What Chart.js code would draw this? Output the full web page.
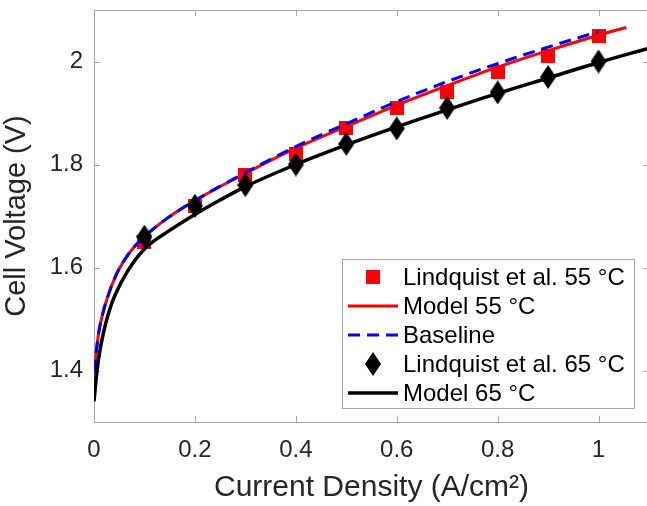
<!DOCTYPE html>
<html>
<head>
<meta charset="utf-8">
<script src="https://cdn.jsdelivr.net/npm/chart.js@4"></script>
<style>
  html, body { margin: 0; padding: 0; background: #fff; overflow: hidden; }
  #wrap { width: 647px; height: 506px; overflow: hidden; }
</style>
</head>
<body>
<div id="wrap"><canvas id="c" width="658" height="506"></canvas></div>
<script>
// measured points (Lindquist et al.)
const expX = [0.1, 0.2, 0.3, 0.4, 0.5, 0.6, 0.7, 0.8, 0.9, 1.0];
const lind55 = [1.65, 1.72, 1.78, 1.82, 1.87, 1.91, 1.94, 1.98, 2.01, 2.05];
const lind65 = [1.66, 1.72, 1.76, 1.80, 1.84, 1.87, 1.91, 1.94, 1.97, 2.00];

// model curves
const model55X = [0, 0.002, 0.0085, 0.016, 0.026, 0.045, 0.06, 0.077, 0.1, 0.14, 0.2, 0.3, 0.4, 0.5, 0.6, 0.7, 0.8, 0.9, 1.0, 1.055];
const model55Y = [1.36, 1.405, 1.468, 1.505, 1.54, 1.588, 1.614, 1.637, 1.66, 1.692, 1.73, 1.783, 1.832, 1.874, 1.915, 1.953, 1.989, 2.021, 2.051, 2.066];
const baseX = [0, 0.002, 0.0085, 0.016, 0.026, 0.045, 0.06, 0.077, 0.1, 0.14, 0.2, 0.3, 0.4, 0.5, 0.6, 0.7, 0.8, 0.9, 1.0];
const baseY = [1.36, 1.405, 1.468, 1.505, 1.54, 1.588, 1.614, 1.637, 1.66, 1.692, 1.73, 1.784, 1.835, 1.879, 1.922, 1.961, 1.996, 2.028, 2.058];
const model65X = [0, 0.0066, 0.018, 0.03, 0.042, 0.066, 0.1, 0.15, 0.2, 0.25, 0.3, 0.4, 0.5, 0.6, 0.7, 0.8, 0.9, 1.0, 1.1];
const model65Y = [1.34, 1.405, 1.47, 1.515, 1.547, 1.592, 1.636, 1.672, 1.703, 1.731, 1.757, 1.80, 1.838, 1.873, 1.906, 1.938, 1.968, 1.998, 2.026];

const xTicks = [0, 0.2, 0.4, 0.6, 0.8, 1];
const yTicks = [1.4, 1.6, 1.8, 2];

const TXT = '#262626';
const AXIS = '#a6a6a6';
const FONT = "'Liberation Sans', Arial, sans-serif";

function pts(xs, ys) { return xs.map((x, i) => ({ x: x, y: ys[i] })); }

function marker(kind) {
  const cv = document.createElement('canvas');
  const ctx = cv.getContext('2d');
  if (kind === 'square') {
    cv.width = 14; cv.height = 14;
    ctx.fillStyle = '#ff0000';
    ctx.fillRect(0, 0, 14, 14);
  } else {
    cv.width = 16; cv.height = 24;
    ctx.fillStyle = '#000';
    ctx.beginPath();
    ctx.moveTo(8, 0); ctx.lineTo(16, 12); ctx.lineTo(8, 24); ctx.lineTo(0, 12);
    ctx.closePath(); ctx.fill();
  }
  return cv;
}
const sq = marker('square');
const dia = marker('diamond');

// box + inward ticks, MATLAB style
const framePlugin = {
  id: 'frame',
  beforeDatasetsDraw(chart) {
    const { ctx, chartArea: a, scales } = chart;
    ctx.save();
    ctx.strokeStyle = AXIS;
    ctx.lineWidth = 1;
    ctx.strokeRect(a.left + 0.5, a.top + 0.5, a.right - a.left, a.bottom - a.top);
    ctx.beginPath();
    xTicks.forEach((v) => {
      const px = Math.round(scales.x.getPixelForValue(v)) + 0.5;
      ctx.moveTo(px, a.bottom); ctx.lineTo(px, a.bottom - 6);
      ctx.moveTo(px, a.top); ctx.lineTo(px, a.top + 6);
    });
    yTicks.forEach((v) => {
      const py = Math.round(scales.y.getPixelForValue(v)) + 0.5;
      ctx.moveTo(a.left, py); ctx.lineTo(a.left + 6, py);
      ctx.moveTo(a.right, py); ctx.lineTo(a.right - 6, py);
    });
    ctx.stroke();
    ctx.restore();
  }
};

const legendPlugin = {
  id: 'boxLegend',
  afterDatasetsDraw(chart) {
    const ctx = chart.ctx;
    const L = 342, T = 259, W = 292, H = 149;
    const rowY = [277, 306, 335, 364, 393];
    ctx.save();
    ctx.fillStyle = '#fff';
    ctx.fillRect(L, T, W, H);
    ctx.strokeStyle = AXIS;
    ctx.lineWidth = 1;
    ctx.strokeRect(L + 0.5, T + 0.5, W, H);
    chart.data.datasets.forEach((ds, i) => {
      const y = rowY[i];
      if (ds.showLine === false) {
        const img = ds.pointStyle;
        ctx.drawImage(img, 373 - img.width / 2, y - img.height / 2);
      } else {
        ctx.strokeStyle = ds.borderColor;
        ctx.lineWidth = ds.borderWidth;
        ctx.setLineDash(ds.borderDash || []);
        ctx.beginPath();
        ctx.moveTo(348, y); ctx.lineTo(398, y);
        ctx.stroke();
        ctx.setLineDash([]);
      }
      ctx.fillStyle = '#000';
      ctx.font = '24px ' + FONT;
      ctx.textBaseline = 'middle';
      ctx.fillText(ds.label, 403, y + 1);
    });
    ctx.restore();
  }
};

const fmt = (v) => String(+Number(v).toFixed(1));

new Chart(document.getElementById('c'), {
  type: 'line',
  data: {
    datasets: [
      { label: 'Lindquist et al. 55 °C', data: pts(expX, lind55), showLine: false,
        pointStyle: sq, pointRadius: 7, order: 3 },
      { label: 'Model 55 °C', data: pts(model55X, model55Y), borderColor: '#ff0000',
        borderWidth: 3, pointRadius: 0, cubicInterpolationMode: 'monotone', order: 4 },
      { label: 'Baseline', data: pts(baseX, baseY), borderColor: '#0000ff',
        borderWidth: 3, borderDash: [12, 7], pointRadius: 0, cubicInterpolationMode: 'monotone', order: 2 },
      { label: 'Lindquist et al. 65 °C', data: pts(expX, lind65), showLine: false,
        pointStyle: dia, pointRadius: 8, order: 0 },
      { label: 'Model 65 °C', data: pts(model65X, model65Y), borderColor: '#000000',
        borderWidth: 3.5, pointRadius: 0, cubicInterpolationMode: 'monotone', order: 1 }
    ]
  },
  options: {
    responsive: false,
    animation: false,
    layout: { padding: { top: 10, right: 0, left: 0, bottom: 0 } },
    plugins: { legend: { display: false }, tooltip: { enabled: false } },
    scales: {
      x: {
        type: 'linear', min: 0, max: 1.1,
        afterBuildTicks: (s) => { s.ticks = xTicks.map((v) => ({ value: v })); },
        afterFit: (s) => { s.height = 84; s.paddingLeft = 0; s.paddingRight = 0; },
        grid: { display: false, drawTicks: false },
        border: { display: false },
        ticks: { color: TXT, font: { family: FONT, size: 24 }, padding: 14, callback: fmt, maxRotation: 0 },
        title: { display: true, text: 'Current Density (A/cm²)', color: TXT,
                 font: { family: FONT, size: 30 }, padding: { top: 3, bottom: 0 } }
      },
      y: {
        type: 'linear', min: 1.3, max: 2.1,
        afterBuildTicks: (s) => { s.ticks = yTicks.map((v) => ({ value: v })); },
        afterFit: (s) => { s.width = 94; s.paddingTop = 0; s.paddingBottom = 0; },
        grid: { display: false, drawTicks: false },
        border: { display: false },
        ticks: { color: TXT, font: { family: FONT, size: 24 }, padding: 11, callback: fmt },
        title: { display: true, text: 'Cell Voltage (V)', color: TXT,
                 font: { family: FONT, size: 29 }, padding: { top: 0, bottom: 0 } }
      }
    }
  },
  plugins: [framePlugin, legendPlugin]
});
</script>
</body>
</html>
